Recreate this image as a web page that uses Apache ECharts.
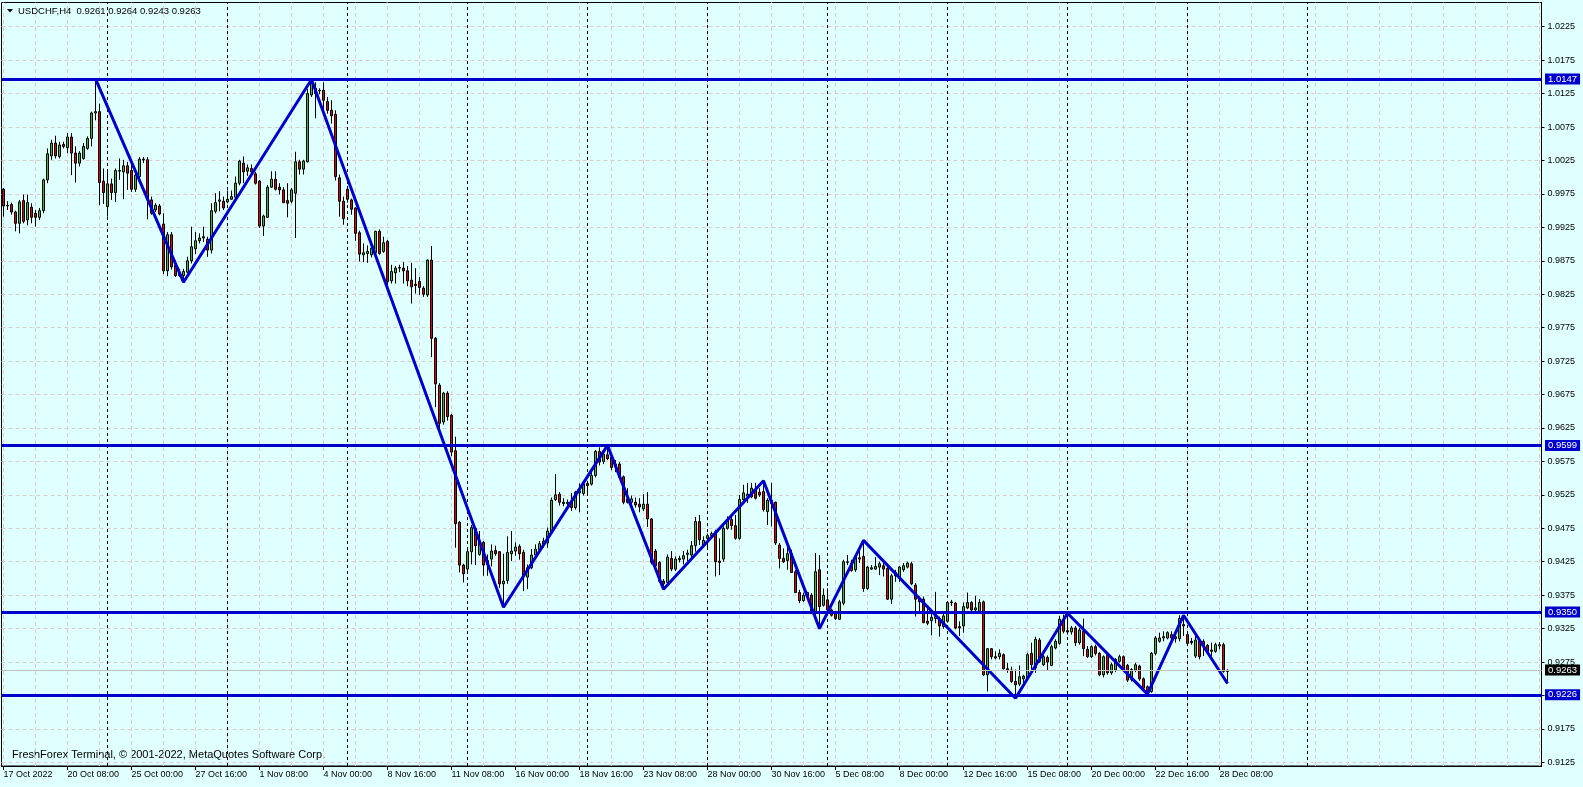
<!DOCTYPE html>
<html><head><meta charset="utf-8">
<script src="https://cdn.jsdelivr.net/npm/echarts@6/dist/echarts.min.js"></script>
<style>html,body{margin:0;padding:0;background:#e0ffff;}#c{width:1583px;height:787px;}</style>
</head><body><div id="c"></div>
<script>
// USDCHF H4 candles: [open, high, low, close], bar index 0 = 17 Oct 2022 16:00
const ohlc = [
[0.9982,0.9984,0.9941,0.9957],[0.9957,0.9964,0.9951,0.9958],[0.9959,0.9962,0.9944,0.9948],[0.9948,0.9950,0.9919,0.9931],[0.9931,0.9966,0.9916,0.9963],
[0.9965,0.9974,0.9931,0.9934],[0.9936,0.9974,0.9928,0.9962],[0.9955,0.9961,0.9931,0.9940],[0.9946,0.9951,0.9926,0.9940],[0.9940,0.9954,0.9936,0.9950],
[0.9950,0.9998,0.9946,0.9996],[0.9996,1.0043,0.9991,1.0035],[1.0032,1.0056,1.0026,1.0051],[1.0051,1.0062,1.0028,1.0032],[1.0031,1.0053,1.0028,1.0048],
[1.0049,1.0053,1.0043,1.0046],[1.0044,1.0066,1.0036,1.0060],[1.0060,1.0066,1.0003,1.0036],[1.0036,1.0046,0.9992,1.0021],[1.0021,1.0039,1.0016,1.0036],
[1.0028,1.0051,1.0026,1.0046],[1.0043,1.0061,1.0041,1.0058],[1.0058,1.0098,1.0046,1.0096],[1.0096,1.0147,1.0085,1.0098],[1.0098,1.0110,0.9958,0.9992],
[0.9994,1.0013,0.9960,0.9977],[0.9956,1.0012,0.9941,0.9990],[0.9990,0.9998,0.9966,0.9977],[0.9977,1.0013,0.9963,1.0010],[1.0009,1.0028,0.9996,1.0010],
[1.0008,1.0026,0.9967,1.0017],[1.0017,1.0023,0.9981,1.0006],[1.0010,1.0020,0.9978,0.9982],[0.9982,1.0006,0.9978,1.0003],[1.0001,1.0030,0.9998,1.0027],
[1.0027,1.0030,1.0021,1.0026],[1.0026,1.0030,0.9937,0.9966],[0.9966,0.9971,0.9944,0.9946],[0.9951,0.9961,0.9948,0.9958],[0.9957,0.9960,0.9943,0.9945],
[0.9930,0.9946,0.9855,0.9860],[0.9860,0.9918,0.9852,0.9914],[0.9914,0.9918,0.9862,0.9866],[0.9868,0.9876,0.9851,0.9853],[0.9858,0.9863,0.9851,0.9853],
[0.9853,0.9863,0.9843,0.9859],[0.9858,0.9881,0.9856,0.9875],[0.9875,0.9926,0.9871,0.9896],[0.9893,0.9918,0.9885,0.9905],[0.9905,0.9916,0.9901,0.9909],
[0.9909,0.9926,0.9903,0.9911],[0.9907,0.9911,0.9881,0.9891],[0.9891,0.9961,0.9886,0.9950],[0.9949,0.9976,0.9946,0.9962],[0.9964,0.9979,0.9949,0.9966],
[0.9964,0.9971,0.9951,0.9954],[0.9963,0.9980,0.9961,0.9967],[0.9967,0.9980,0.9966,0.9971],[0.9970,1.0001,0.9966,0.9991],[0.9991,1.0026,0.9988,1.0024],
[1.0021,1.0031,0.9991,1.0008],[1.0009,1.0019,1.0002,1.0014],[1.0013,1.0019,1.0005,1.0008],[1.0005,1.0008,0.9989,0.9991],[0.9994,0.9996,0.9924,0.9927],
[0.9927,0.9944,0.9912,0.9942],[0.9940,0.9988,0.9939,0.9985],[0.9985,1.0009,0.9984,0.9997],[0.9997,1.0009,0.9980,0.9982],[0.9985,0.9991,0.9974,0.9981],
[0.9981,0.9985,0.9961,0.9962],[0.9965,0.9991,0.9940,0.9961],[0.9964,0.9984,0.9961,0.9981],[0.9976,1.0038,0.9909,1.0023],[1.0023,1.0026,1.0004,1.0012],
[1.0012,1.0026,1.0004,1.0024],[1.0023,1.0132,1.0022,1.0125],[1.0123,1.0146,1.0120,1.0140],[1.0133,1.0142,1.0088,1.0125],[1.0129,1.0133,1.0124,1.0130],
[1.0130,1.0142,1.0100,1.0115],[1.0113,1.0120,1.0095,1.0100],[1.0100,1.0115,1.0080,1.0092],[1.0094,1.0100,0.9995,1.0001],[0.9999,1.0004,0.9941,0.9964],
[0.9964,0.9971,0.9929,0.9938],[0.9982,0.9987,0.9962,0.9967],[0.9966,0.9968,0.9944,0.9952],[0.9954,0.9955,0.9905,0.9916],[0.9917,0.9920,0.9874,0.9885],
[0.9884,0.9901,0.9873,0.9887],[0.9886,0.9898,0.9872,0.9889],[0.9884,0.9898,0.9880,0.9894],[0.9887,0.9920,0.9885,0.9919],[0.9919,0.9922,0.9884,0.9886],
[0.9889,0.9911,0.9887,0.9902],[0.9904,0.9906,0.9834,0.9844],[0.9845,0.9869,0.9841,0.9859],[0.9857,0.9867,0.9841,0.9864],[0.9864,0.9869,0.9858,0.9865],
[0.9864,0.9873,0.9841,0.9860],[0.9860,0.9867,0.9837,0.9845],[0.9846,0.9872,0.9811,0.9836],[0.9840,0.9864,0.9826,0.9838],[0.9844,0.9851,0.9824,0.9835],
[0.9834,0.9837,0.9821,0.9825],[0.9824,0.9877,0.9821,0.9876],[0.9876,0.9897,0.9731,0.9759],[0.9759,0.9761,0.9656,0.9691],[0.9689,0.9692,0.9621,0.9632],
[0.9634,0.9679,0.9630,0.9677],[0.9677,0.9680,0.9636,0.9642],[0.9644,0.9646,0.9583,0.9589],[0.9591,0.9612,0.9446,0.9482],[0.9484,0.9486,0.9409,0.9420],
[0.9420,0.9422,0.9394,0.9407],[0.9414,0.9446,0.9411,0.9440],[0.9440,0.9480,0.9421,0.9476],[0.9475,0.9477,0.9420,0.9449],[0.9436,0.9471,0.9434,0.9455],
[0.9454,0.9456,0.9404,0.9420],[0.9421,0.9436,0.9404,0.9427],[0.9429,0.9451,0.9418,0.9441],[0.9442,0.9449,0.9434,0.9437],[0.9440,0.9441,0.9386,0.9392],
[0.9392,0.9437,0.9357,0.9396],[0.9397,0.9463,0.9392,0.9439],[0.9437,0.9471,0.9426,0.9441],[0.9441,0.9454,0.9434,0.9447],[0.9448,0.9451,0.9428,0.9437],
[0.9439,0.9443,0.9381,0.9404],[0.9402,0.9421,0.9384,0.9416],[0.9416,0.9444,0.9414,0.9435],[0.9435,0.9451,0.9431,0.9444],[0.9443,0.9456,0.9441,0.9452],
[0.9451,0.9461,0.9446,0.9456],[0.9453,0.9476,0.9446,0.9471],[0.9469,0.9521,0.9466,0.9517],[0.9518,0.9556,0.9516,0.9525],[0.9526,0.9529,0.9509,0.9514],
[0.9514,0.9520,0.9508,0.9512],[0.9512,0.9518,0.9509,0.9514],[0.9514,0.9528,0.9501,0.9506],[0.9506,0.9531,0.9503,0.9529],[0.9528,0.9542,0.9499,0.9531],
[0.9527,0.9543,0.9524,0.9541],[0.9542,0.9546,0.9524,0.9539],[0.9541,0.9560,0.9539,0.9554],[0.9554,0.9592,0.9551,0.9590],[0.9590,0.9596,0.9569,0.9574],
[0.9575,0.9589,0.9571,0.9586],[0.9585,0.9599,0.9577,0.9579],[0.9581,0.9584,0.9562,0.9566],[0.9571,0.9577,0.9559,0.9567],[0.9571,0.9574,0.9549,0.9551],
[0.9552,0.9554,0.9511,0.9514],[0.9519,0.9535,0.9512,0.9514],[0.9514,0.9524,0.9511,0.9519],[0.9514,0.9521,0.9506,0.9510],[0.9511,0.9520,0.9499,0.9507],
[0.9504,0.9526,0.9501,0.9511],[0.9511,0.9529,0.9477,0.9489],[0.9489,0.9490,0.9421,0.9424],[0.9441,0.9444,0.9411,0.9419],[0.9424,0.9426,0.9394,0.9396],
[0.9396,0.9399,0.9384,0.9392],[0.9394,0.9436,0.9391,0.9432],[0.9430,0.9441,0.9411,0.9414],[0.9414,0.9433,0.9411,0.9429],[0.9428,0.9434,0.9424,0.9430],
[0.9429,0.9441,0.9421,0.9434],[0.9436,0.9443,0.9426,0.9438],[0.9435,0.9456,0.9431,0.9449],[0.9449,0.9492,0.9440,0.9485],[0.9485,0.9495,0.9450,0.9458],
[0.9449,0.9463,0.9447,0.9457],[0.9460,0.9467,0.9447,0.9464],[0.9464,0.9470,0.9460,0.9467],[0.9470,0.9473,0.9403,0.9425],[0.9426,0.9460,0.9405,0.9424],
[0.9429,0.9478,0.9425,0.9475],[0.9475,0.9493,0.9473,0.9488],[0.9488,0.9493,0.9473,0.9479],[0.9479,0.9495,0.9458,0.9460],[0.9460,0.9525,0.9458,0.9518],
[0.9518,0.9540,0.9515,0.9528],[0.9523,0.9543,0.9513,0.9526],[0.9522,0.9543,0.9520,0.9535],[0.9532,0.9543,0.9518,0.9520],[0.9529,0.9535,0.9522,0.9525],
[0.9530,0.9546,0.9500,0.9503],[0.9500,0.9520,0.9480,0.9517],[0.9517,0.9543,0.9478,0.9512],[0.9514,0.9515,0.9450,0.9453],[0.9450,0.9453,0.9415,0.9430],
[0.9430,0.9445,0.9423,0.9425],[0.9427,0.9447,0.9413,0.9437],[0.9437,0.9443,0.9408,0.9409],[0.9410,0.9413,0.9378,0.9379],[0.9379,0.9383,0.9363,0.9367],
[0.9367,0.9379,0.9365,0.9375],[0.9374,0.9380,0.9370,0.9379],[0.9375,0.9378,0.9347,0.9348],[0.9348,0.9438,0.9345,0.9410],[0.9413,0.9435,0.9325,0.9358],
[0.9360,0.9385,0.9358,0.9375],[0.9368,0.9385,0.9348,0.9353],[0.9353,0.9355,0.9343,0.9345],[0.9348,0.9350,0.9338,0.9340],[0.9339,0.9368,0.9338,0.9365],
[0.9363,0.9428,0.9360,0.9425],[0.9424,0.9435,0.9420,0.9425],[0.9423,0.9428,0.9410,0.9412],[0.9413,0.9435,0.9410,0.9432],[0.9429,0.9448,0.9423,0.9431],
[0.9433,0.9457,0.9380,0.9385],[0.9385,0.9419,0.9383,0.9417],[0.9416,0.9420,0.9413,0.9414],[0.9414,0.9432,0.9413,0.9418],[0.9417,0.9425,0.9405,0.9422],
[0.9419,0.9428,0.9403,0.9414],[0.9415,0.9418,0.9368,0.9369],[0.9369,0.9407,0.9362,0.9404],[0.9404,0.9413,0.9395,0.9409],[0.9401,0.9419,0.9395,0.9417],
[0.9413,0.9423,0.9410,0.9419],[0.9417,0.9425,0.9415,0.9423],[0.9422,0.9425,0.9390,0.9392],[0.9390,0.9393,0.9343,0.9369],[0.9369,0.9373,0.9350,0.9365],
[0.9369,0.9373,0.9333,0.9334],[0.9336,0.9355,0.9330,0.9333],[0.9337,0.9349,0.9315,0.9342],[0.9340,0.9380,0.9333,0.9343],[0.9340,0.9343,0.9313,0.9329],
[0.9328,0.9350,0.9325,0.9344],[0.9336,0.9366,0.9334,0.9364],[0.9364,0.9368,0.9359,0.9365],[0.9363,0.9365,0.9324,0.9326],[0.9328,0.9336,0.9314,0.9326],
[0.9329,0.9364,0.9319,0.9358],[0.9356,0.9379,0.9354,0.9364],[0.9364,0.9366,0.9351,0.9353],[0.9353,0.9374,0.9351,0.9356],[0.9351,0.9369,0.9349,0.9364],
[0.9365,0.9367,0.9254,0.9256],[0.9256,0.9296,0.9231,0.9295],[0.9295,0.9296,0.9279,0.9283],[0.9283,0.9291,0.9279,0.9281],[0.9283,0.9294,0.9279,0.9288],
[0.9286,0.9288,0.9264,0.9265],[0.9265,0.9274,0.9259,0.9263],[0.9263,0.9268,0.9244,0.9246],[0.9246,0.9264,0.9221,0.9241],[0.9242,0.9270,0.9239,0.9253],
[0.9250,0.9256,0.9244,0.9254],[0.9251,0.9289,0.9249,0.9286],[0.9288,0.9304,0.9264,0.9271],[0.9266,0.9313,0.9259,0.9309],[0.9308,0.9311,0.9274,0.9276],
[0.9271,0.9286,0.9269,0.9283],[0.9282,0.9285,0.9263,0.9275],[0.9270,0.9301,0.9269,0.9298],[0.9296,0.9309,0.9294,0.9306],[0.9303,0.9344,0.9301,0.9339],
[0.9339,0.9346,0.9318,0.9321],[0.9322,0.9348,0.9316,0.9320],[0.9320,0.9329,0.9316,0.9326],[0.9326,0.9329,0.9299,0.9304],[0.9304,0.9326,0.9301,0.9323],
[0.9321,0.9340,0.9284,0.9295],[0.9294,0.9299,0.9281,0.9283],[0.9283,0.9300,0.9281,0.9298],[0.9298,0.9301,0.9285,0.9288],[0.9288,0.9290,0.9254,0.9256],
[0.9256,0.9285,0.9252,0.9283],[0.9285,0.9288,0.9256,0.9259],[0.9259,0.9274,0.9256,0.9271],[0.9263,0.9281,0.9260,0.9279],[0.9276,0.9286,0.9274,0.9283],
[0.9283,0.9285,0.9261,0.9264],[0.9270,0.9272,0.9245,0.9248],[0.9249,0.9266,0.9246,0.9264],[0.9263,0.9274,0.9260,0.9271],[0.9269,0.9271,0.9247,0.9250],
[0.9250,0.9252,0.9234,0.9236],[0.9238,0.9240,0.9227,0.9229],[0.9231,0.9290,0.9229,0.9288],[0.9288,0.9314,0.9285,0.9311],[0.9306,0.9319,0.9304,0.9311],
[0.9311,0.9321,0.9306,0.9313],[0.9311,0.9321,0.9309,0.9319],[0.9316,0.9321,0.9306,0.9311],[0.9313,0.9316,0.9304,0.9310],[0.9310,0.9345,0.9306,0.9340],
[0.9331,0.9345,0.9314,0.9329],[0.9316,0.9319,0.9301,0.9303],[0.9306,0.9311,0.9301,0.9304],[0.9284,0.9319,0.9281,0.9308],[0.9306,0.9309,0.9279,0.9283],
[0.9306,0.9309,0.9284,0.9300],[0.9300,0.9302,0.9289,0.9291],[0.9293,0.9304,0.9284,0.9291],[0.9291,0.9304,0.9289,0.9301],[0.9299,0.9305,0.9294,0.9301],
[0.9301,0.9304,0.9259,0.9261],[0.9261,0.9264,0.9243,0.9263]
];
// ZigZag pivots: [bar index, price]
const zigzag = [[23,1.0147],[45,0.9843],[77,1.0146],[125,0.9357],[151,0.9599],[165,0.9384],[190,0.9546],[204,0.9325],[215,0.9457],[253,0.9221],[266,0.9348],[286,0.9227],[295,0.9345],[306,0.9243]];
const levels = [1.0147, 0.9599, 0.9350, 0.9226];
const bidPrice = 0.9263;
const yTicks = [0.9125,0.9175,0.9225,0.9275,0.9325,0.9375,0.9425,0.9475,0.9525,0.9575,0.9625,0.9675,0.9725,0.9775,0.9825,0.9875,0.9925,0.9975,1.0025,1.0075,1.0125,1.0175,1.0225];
const xTickLabels = ['17 Oct 2022','20 Oct 08:00','25 Oct 00:00','27 Oct 16:00','1 Nov 08:00','4 Nov 00:00','8 Nov 16:00','11 Nov 08:00','16 Nov 00:00','18 Nov 16:00','23 Nov 08:00','28 Nov 00:00','30 Nov 16:00','5 Dec 08:00','8 Dec 00:00','12 Dec 16:00','15 Dec 08:00','20 Dec 00:00','22 Dec 16:00','28 Dec 08:00'];
const weekStarts = [26,56,86,116,146,176,206,236,266,296,326];
const headerText = 'USDCHF,H4  0.9261 0.9264 0.9243 0.9263';
const footerText = 'FreshForex Terminal, \u00a9 2001-2022, MetaQuotes Software Corp.';

const SLOTS = 385, LABEL_STEP = 16, GRID_STEP = 8;
const FONT = "'Liberation Sans', Arial, sans-serif";
const cats = Array.from({length: SLOTS}, (_, i) => String(i));
const gridColor = '#d9cccc';

const bgLines = [];
yTicks.forEach(v => bgLines.push({yAxis: v, lineStyle: {color: gridColor, type: [4,3], width: 1}}));
for (let i = 0; i < SLOTS; i += GRID_STEP) bgLines.push({xAxis: i, lineStyle: {color: gridColor, type: [4,3], width: 1}});
weekStarts.forEach(i => bgLines.push({xAxis: i, lineStyle: {color: '#000', type: [3,3], width: 1}}));

const lvlLabel = (txt, bg) => ({show: true, position: 'end', distance: 3.5, formatter: txt, color: '#fff',
  backgroundColor: bg, padding: [1,3,0,3], fontSize: 9.5, fontFamily: FONT});
const lvlLines = [{yAxis: bidPrice, lineStyle: {color: '#c0c0c0', width: 1, type: 'solid'}, label: lvlLabel(bidPrice.toFixed(4), '#000')}];
levels.forEach(v => lvlLines.push({yAxis: v, lineStyle: {color: '#0000cd', width: 3, type: 'solid'}, label: lvlLabel(v.toFixed(4), '#0000cd')}));

const chart = echarts.init(document.getElementById('c'), null, {renderer: 'canvas'});
chart.setOption({
  animation: false,
  backgroundColor: '#e0ffff',
  textStyle: {fontFamily: FONT},
  grid: {left: 1.5, top: 2.5, width: 1540, height: 763.5, show: true, borderColor: '#000', borderWidth: 1, backgroundColor: 'transparent', containLabel: false},
  xAxis: {
    type: 'category', data: cats, boundaryGap: true,
    axisLine: {show: true, lineStyle: {color: '#000', width: 1}},
    axisTick: {show: true, alignWithLabel: true, length: 4, lineStyle: {color: '#000'},
      interval: (idx) => idx % LABEL_STEP === 0 && idx / LABEL_STEP < xTickLabels.length},
    axisLabel: {show: true, align: 'left', margin: 4, fontSize: 9, fontFamily: FONT, color: '#000',
      interval: (idx) => idx % LABEL_STEP === 0 && idx / LABEL_STEP < xTickLabels.length,
      formatter: (v, idx) => xTickLabels[idx / LABEL_STEP] || ''},
    splitLine: {show: false}
  },
  yAxis: {
    type: 'value', position: 'right', min: 0.91196, max: 1.02612, scale: true,
    axisLine: {show: true, lineStyle: {color: '#000', width: 1}},
    axisTick: {show: true, length: 3, customValues: yTicks, lineStyle: {color: '#000'}},
    axisLabel: {show: true, customValues: yTicks, margin: 6, fontSize: 9, fontFamily: FONT, color: '#000',
      formatter: v => v.toFixed(4)},
    splitLine: {show: false}
  },
  graphic: [
    {type: 'polygon', shape: {points: [[7,9],[13,9],[10,12.5]]}, style: {fill: '#000'}, z: 10},
    {type: 'text', x: 18, y: 11, z: 10, style: {text: headerText, fill: '#000', font: "9.5px 'Liberation Sans', Arial, sans-serif", verticalAlign: 'middle'}},
    {type: 'text', x: 12, y: 755, z: 0, style: {text: footerText, fill: '#000', font: "11px 'Liberation Sans', Arial, sans-serif", verticalAlign: 'middle'}}
  ],
  series: [
    {
      type: 'line', name: 'ZigZag', data: zigzag, symbol: 'none', silent: true, z: 4,
      lineStyle: {color: '#0000cd', width: 3},
      markLine: {silent: true, symbol: ['none','none'], precision: 4, z: 1, animation: false, label: {show: false}, data: bgLines}
    },
    {
      type: 'candlestick', name: 'USDCHF', silent: true, z: 3, barWidth: 2,
      data: ohlc.map(r => [r[0], r[3], r[2], r[1]]),
      itemStyle: {color: '#3cb83c', color0: '#e00000', borderColor: '#000', borderColor0: '#000', borderColorDoji: '#000', borderWidth: 1},
      markLine: {silent: true, symbol: ['none','none'], precision: 4, z: 5, animation: false, data: lvlLines}
    }
  ]
});
</script>
</body></html>
